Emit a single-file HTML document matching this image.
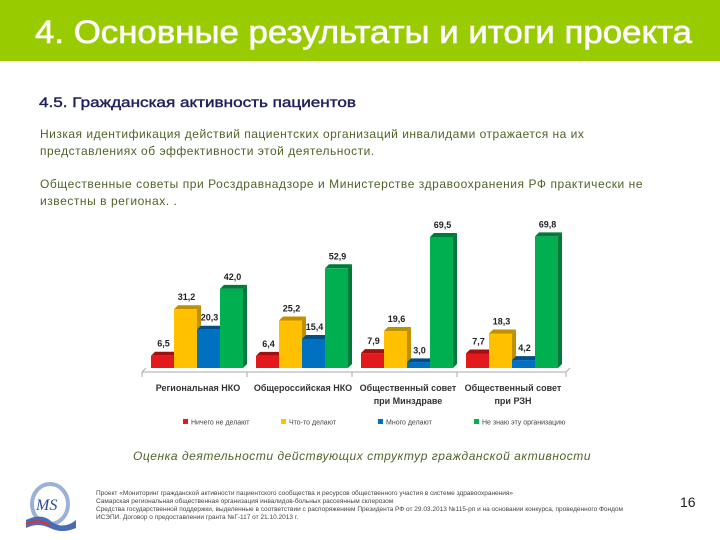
<!DOCTYPE html>
<html><head><meta charset="utf-8"><style>
body{margin:0;width:720px;height:540px;background:#fff;position:relative;overflow:hidden;font-family:"Liberation Sans",sans-serif}
.abs{position:absolute;white-space:nowrap}
</style></head><body>
<div class="abs" style="left:0;top:0;width:720px;height:61px;background:#99cc00"></div>
<svg class="abs" style="left:0;top:0" width="720" height="120">
<text x="35" y="43" font-size="32" fill="#fff" textLength="657" lengthAdjust="spacingAndGlyphs" font-family="Liberation Sans, sans-serif" stroke="#fff" stroke-width="0.6">4. Основные результаты и итоги проекта</text>
<text x="39" y="107" font-size="14" fill="#1f1f5c" textLength="317" lengthAdjust="spacingAndGlyphs" font-family="Liberation Sans, sans-serif" stroke="#1f1f5c" stroke-width="0.4">4.5. Гражданская активность пациентов</text>
</svg>
<div class="abs" style="left:40px;top:126px;font-size:12px;line-height:17px;color:#4f6228;letter-spacing:0.5px">Низкая идентификация действий пациентских организаций инвалидами отражается на их<br>представлениях об эффективности этой деятельности.</div>
<div class="abs" style="left:40px;top:176px;font-size:12px;line-height:17px;color:#4f6228;letter-spacing:0.55px">Общественные советы при Росздравнадзоре и Министерстве здравоохранения РФ практически не<br>известны в регионах. .</div>
<svg class="abs" style="left:0;top:0" width="720" height="540" id="chart"></svg>
<div class="abs" style="left:133px;top:449px;font-size:12px;font-style:italic;color:#4f6228;letter-spacing:0.55px">Оценка деятельности действующих структур гражданской активности</div>
<svg class="abs" style="left:22px;top:482px" width="56" height="50">
<ellipse cx="28" cy="22" rx="18" ry="20" fill="none" stroke="#9ab0d8" stroke-width="4"/>
<path d="M4 38 Q20 30 30 40 Q42 48 54 38 L54 46 Q40 52 28 46 Q16 40 4 46Z" fill="#4a6bb5"/>
<path d="M4 42 Q18 36 28 44" stroke="#d33" stroke-width="2" fill="none"/>
<text x="14" y="28" font-size="16" font-style="italic" fill="#2a4aa0" font-family="Liberation Serif, serif">MS</text>
</svg>
<div class="abs" style="left:96px;top:490px;font-size:6.5px;line-height:8px;color:#444">Проект «Мониторинг гражданской активности пациентского сообщества и ресурсов общественного участия в системе здравоохранения»<br>Самарская региональная общественная организация инвалидов-больных рассеянным склерозом<br>Средства государственной поддержки, выделенные в соответствии с распоряжением Президента РФ от 29.03.2013 №115-рп и на основании конкурса, проведенного Фондом<br>ИСЭПИ. Договор о предоставлении гранта №Г-117 от 21.10.2013 г.</div>
<div class="abs" style="left:680px;top:494px;font-size:14px;color:#222">16</div>
<script>
const categories=[["Региональная НКО"],["Общероссийская НКО"],["Общественный совет","при Минздраве"],["Общественный совет","при РЗН"]];
const seriesNames=["Ничего не делают","Что-то делают","Много делают","Не знаю эту организацию"];
const nothing=[6.5,6.4,7.9,7.7];
const something=[31.2,25.2,19.6,18.3];
const much=[20.3,15.4,3.0,4.2];
const unknown=[42.0,52.9,69.5,69.8];
const series=[nothing,something,much,unknown];
const colors=["#e31a1c","#ffc000","#0070c0","#00b050"];
const dark=["#a01010","#c09000","#004f8a","#007a3a"];
const svg=document.getElementById('chart');
const NS='http://www.w3.org/2000/svg';
const baseY=368, scale=1.885, groupX0=151, groupW=105, barW=23, dep=4;
const yPos=v=>baseY-v*scale;
const xPos=(g,s)=>groupX0+g*groupW+s*barW;
function mk(t,a){const e=document.createElementNS(NS,t);for(const k in a)e.setAttribute(k,a[k]);svg.appendChild(e);return e;}
const fl=mk('path',{d:`M142 372 L566 372 L570 368 M142 372 L146 368`,stroke:'#aaa',fill:'none','stroke-width':1});


for(let g=0;g<=4;g++){const t=mk('line',{x1:142+g*groupW+(g==4?4:0),y1:372,x2:142+g*groupW+(g==4?4:0),y2:377,stroke:'#aaa'});

}
categories.forEach((c,g)=>{
 series.forEach((arr,s)=>{
  const v=arr[g],x=xPos(g,s),y=yPos(v),h=baseY-y;
  const side=mk('polygon',{points:`${x+barW},${y} ${x+barW+dep},${y-dep} ${x+barW+dep},${baseY-dep} ${x+barW},${baseY}`,fill:dark[s]});
  
  
  const top=mk('polygon',{points:`${x},${y} ${x+dep},${y-dep} ${x+barW+dep},${y-dep} ${x+barW},${y}`,fill:dark[s]});
  
  
  const r=mk('rect',{x:x,y:y,width:barW,height:h,fill:colors[s]});
  
  
  const l=mk('text',{x:x+barW/2+1,y:y-9,'text-anchor':'middle','font-size':9,'font-weight':'bold',fill:'#222'});
  l.textContent=v.toFixed(1).replace('.',',');
  
  
 });
 c.forEach((line,i)=>{
  const t=mk('text',{x:groupX0+g*groupW+47,y:391+i*13,'text-anchor':'middle','font-size':9,'font-weight':'bold',fill:'#333'});
  t.textContent=line;
  
  
 });
});
const legX=[183,281,378,474];
seriesNames.forEach((n,s)=>{
 const r=mk('rect',{x:legX[s],y:419,width:5,height:5,fill:colors[s]});
 
 
 const t=mk('text',{x:legX[s]+8,y:424.5,'font-size':7,fill:'#444'});
 t.textContent=n;
 
 
});
</script>
</body></html>
